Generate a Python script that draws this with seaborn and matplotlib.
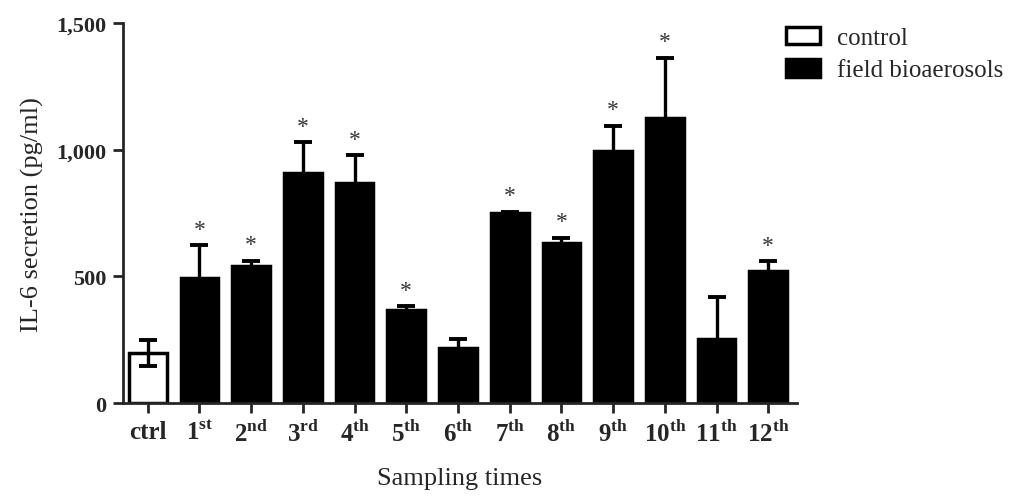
import pandas as pd
import seaborn as sns
import matplotlib.pyplot as plt
from matplotlib.patches import Patch

# values (pg/ml)
samples = ['ctrl', '1st', '2nd', '3rd', '4th', '5th', '6th',
           '7th', '8th', '9th', '10th', '11th', '12th']
means = [198, 492, 542, 910, 868, 367, 216, 750, 632, 996, 1124, 253, 522]
errors = [52, 131, 20, 119, 111, 15, 37, 5, 20, 99, 238, 167, 37]
groups = ['control'] + ['field bioaerosols'] * 12
significant = [False, True, True, True, True, True, False,
               True, True, True, True, False, True]

df = pd.DataFrame({'sample': samples, 'mean': means, 'err': errors, 'group': groups})

sns.set_style('ticks')
plt.rcParams['font.family'] = ['Liberation Serif', 'DejaVu Serif']
plt.rcParams['mathtext.fontset'] = 'custom'
plt.rcParams['mathtext.rm'] = 'Liberation Serif'
plt.rcParams['mathtext.bf'] = 'Liberation Serif:bold'

fig = plt.figure(figsize=(10.24, 5.02), dpi=100)
ax = fig.add_axes([0.120, 0.195, 0.658, 0.757])

sns.barplot(data=df, x='sample', y='mean', hue='group',
            palette={'control': 'white', 'field bioaerosols': 'black'},
            dodge=False, width=0.73, edgecolor='black', linewidth=2.5,
            legend=False, ax=ax)

ax.errorbar(range(len(samples)), df['mean'], yerr=df['err'], fmt='none',
            ecolor='black', elinewidth=2.4, capsize=6.5, capthick=2.8, zorder=3)

for i, (m, e, s) in enumerate(zip(means, errors, significant)):
    if s:
        ax.text(i, m + e + 22, '*', ha='center', va='bottom',
                fontsize=17, color='#333333')

ax.set_ylim(0, 1500)
ax.set_xlim(-0.48, 12.55)
ax.set_yticks([0, 500, 1000, 1500])
ax.set_yticklabels(['0', '500', '1,000', '1,500'], fontweight='bold', fontsize=16)

tick_labels = [r'ctrl']
for s in samples[1:]:
    num, suf = s[:-2], s[-2:]
    tick_labels.append(num + r'$^{\mathbf{' + suf + '}}$')
ax.set_xticks(range(len(samples)))
ax.set_xticklabels(tick_labels, fontweight='bold', fontsize=18)

ax.set_xlabel('Sampling times', fontsize=19, labelpad=15)
ax.set_ylabel('IL-6 secretion (pg/ml)', fontsize=19, labelpad=9)

sns.despine(ax=ax)
for sp in ['left', 'bottom']:
    ax.spines[sp].set_linewidth(2)
ax.tick_params(width=2, length=7, pad=5)

handles = [Patch(facecolor='white', edgecolor='black', linewidth=2.5, label='control'),
           Patch(facecolor='black', edgecolor='black', linewidth=2.5, label='field bioaerosols')]
fig.legend(handles=handles, loc='upper left', bbox_to_anchor=(0.768, 0.945),
           frameon=False, fontsize=18, handlelength=1.36, handleheight=0.72,
           labelspacing=0.38, handletextpad=0.68, borderpad=0, borderaxespad=0)

fig.savefig('out.png', dpi=100)
plt.close(fig)
